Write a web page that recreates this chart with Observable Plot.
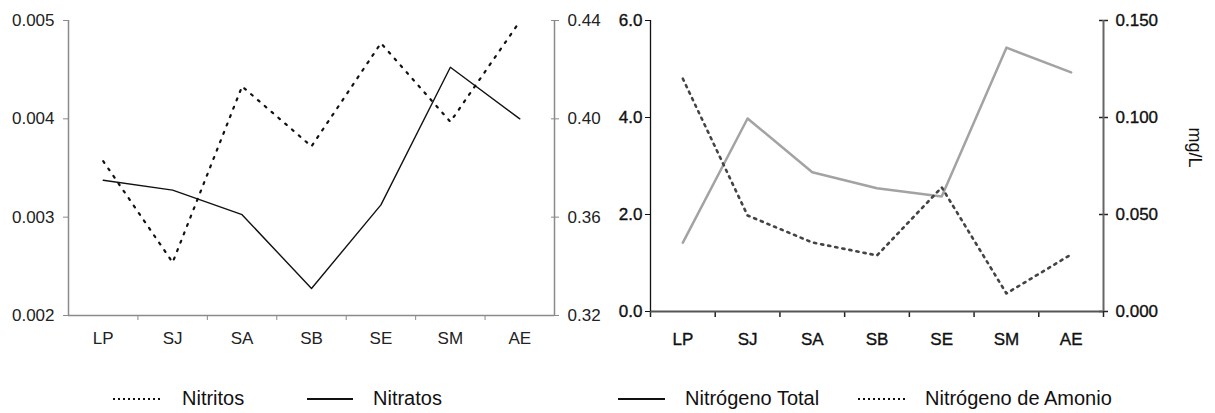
<!DOCTYPE html>
<html>
<head>
<meta charset="utf-8">
<script src="https://cdn.jsdelivr.net/npm/d3@7"></script>
<script src="https://cdn.jsdelivr.net/npm/@observablehq/plot@0.6"></script>
<style>
  body { margin: 0; background: #fff; font-family: "Liberation Sans", Arial, sans-serif; }
  #wrap { position: relative; width: 1215px; height: 413px; overflow: hidden; }
  #p1, #p2 { position: absolute; top: 0; }
  #p1 { left: 0; }
  #p2 { left: 600px; }
  #p2 g[aria-label*="tick label"] text { stroke: #111; stroke-width: 0.35px; }
  .leg { position: absolute; top: 386px; font-size: 20px; color: #111; white-space: nowrap; line-height: 24px; }
  .leg svg { position: absolute; top: 0; }
  .ylab { position: absolute; left: 1172px; top: 137px; font-size: 18px; color: #111; transform: rotate(90deg); transform-origin: center; width: 44px; text-align: center; }
</style>
</head>
<body>
<div id="wrap">
  <div id="p1"></div>
  <div id="p2"></div>
  <div class="ylab">mg/L</div>
</div>
<script>
// ---- data ----
const categories = ["LP", "SJ", "SA", "SB", "SE", "SM", "AE"];
// left panel
const nitritos = [0.00357, 0.00254, 0.00433, 0.00372, 0.00477, 0.00397, 0.00499]; // left axis
const nitratos = [0.375, 0.371, 0.361, 0.331, 0.365, 0.421, 0.400];               // right axis
const leftTicks1 = [0.002, 0.003, 0.004, 0.005];
const rightTicks1 = [0.32, 0.36, 0.40, 0.44];
// right panel
const nitrogenoTotal = [1.42, 3.98, 2.87, 2.54, 2.37, 5.44, 4.93];                // left axis
const nitrogenoAmonio = [0.120, 0.0495, 0.0356, 0.0289, 0.064, 0.0093, 0.0294];   // right axis
const leftTicks2 = [0, 2, 4, 6];
const rightTicks2 = [0, 0.05, 0.10, 0.15];

const font = {fontFamily: "'Liberation Sans', Arial, sans-serif", fontSize: "17px", background: "transparent", overflow: "visible"};
const idx = d3.range(categories.length);
const bounds = d3.range(categories.length + 1).map(i => i - 0.5);

// ---- left panel ----
{
  const [l0, l1] = [leftTicks1[0], leftTicks1[leftTicks1.length - 1]];
  const [r0, r1] = [rightTicks1[0], rightTicks1[rightTicks1.length - 1]];
  const toL = r => l0 + (r - r0) / (r1 - r0) * (l1 - l0);
  const toR = l => r0 + (l - l0) / (l1 - l0) * (r1 - r0);
  const axisColor = "#8a8a8a";
  const chart = Plot.plot({
    width: 605, height: 345,
    marginTop: 20, marginLeft: 68, marginRight: 51, marginBottom: 30,
    style: font,
    x: {type: "linear", domain: [-0.5, categories.length - 0.5]},
    y: {domain: [l0, l1]},
    marks: [
      Plot.axisX(idx, {tickSize: 0, tickPadding: 16, tickFormat: i => categories[i], fill: "#222"}),
      Plot.axisX(bounds.slice(1, -1), {tickSize: 5, tickFormat: () => "", stroke: axisColor}),
      Plot.axisY(leftTicks1, {tickSize: 5, tickPadding: 9, tickFormat: d => d.toFixed(3), stroke: axisColor, fill: "#222"}),
      Plot.axisY(rightTicks1.map(toL), {anchor: "right", tickSize: 4, tickPadding: 9, tickFormat: d => toR(d).toFixed(2), stroke: axisColor, fill: "#222"}),
      Plot.axisY(rightTicks1.map(toL), {anchor: "right", tickSize: -4, tickFormat: () => "", stroke: axisColor}),
      Plot.ruleY([l0], {stroke: axisColor, strokeWidth: 1.5}),
      Plot.ruleX([bounds[0]], {stroke: axisColor, strokeWidth: 1.5}),
      Plot.ruleX([bounds[bounds.length - 1]], {stroke: axisColor, strokeWidth: 1.5}),
      Plot.line(nitratos, {x: (d, i) => i, y: d => toL(d), stroke: "#111", strokeWidth: 1.4}),
      Plot.line(nitritos, {x: (d, i) => i, y: d => d, stroke: "#111", strokeWidth: 2.2, strokeDasharray: "2,7"})
    ]
  });
  document.getElementById("p1").appendChild(chart);
}

// ---- right panel ----
{
  const [l0, l1] = [leftTicks2[0], leftTicks2[leftTicks2.length - 1]];
  const [r0, r1] = [rightTicks2[0], rightTicks2[rightTicks2.length - 1]];
  const toL = r => l0 + (r - r0) / (r1 - r0) * (l1 - l0);
  const toR = l => r0 + (l - l0) / (l1 - l0) * (r1 - r0);
  const chart = Plot.plot({
    width: 615, height: 345,
    marginTop: 20, marginLeft: 50, marginRight: 112, marginBottom: 34,
    style: font,
    x: {type: "linear", domain: [-0.5, categories.length - 0.5]},
    y: {domain: [l0, l1]},
    marks: [
      Plot.axisX(idx, {tickSize: 0, tickPadding: 21, tickFormat: i => categories[i], fill: "#111"}),
      Plot.axisX(bounds, {tickSize: 6, tickFormat: () => "", stroke: "#222", strokeWidth: 1.5}),
      Plot.axisY(leftTicks2, {tickSize: 5, tickPadding: 3, tickFormat: d => d.toFixed(1), stroke: "#111", fill: "#111"}),
      Plot.axisY(rightTicks2.map(toL), {anchor: "right", tickSize: 4, tickPadding: 8, tickFormat: d => toR(d).toFixed(3), stroke: "#222", fill: "#111", strokeWidth: 1.5}),
      Plot.axisY(rightTicks2.map(toL), {anchor: "right", tickSize: -5, tickFormat: () => "", stroke: "#222", strokeWidth: 1.5}),
      Plot.ruleY([l0], {stroke: "#555", strokeWidth: 2}),
      Plot.ruleX([bounds[0]], {stroke: "#111", strokeWidth: 1.3}),
      Plot.ruleX([bounds[bounds.length - 1]], {stroke: "#666", strokeWidth: 2}),
      Plot.line(nitrogenoTotal, {x: (d, i) => i, y: d => d, stroke: "#a3a3a3", strokeWidth: 2.5}),
      Plot.line(nitrogenoAmonio, {x: (d, i) => i, y: d => toL(d), stroke: "#444", strokeWidth: 2.6, strokeDasharray: "2.2,5"})
    ]
  });
  document.getElementById("p2").appendChild(chart);
}

// ---- legends ----
const legends = [
  {label: "Nitritos", x: 113, w: 49, dash: "2,3", stroke: "#111", sw: 2},
  {label: "Nitratos", x: 307, w: 46, dash: null, stroke: "#111", sw: 2},
  {label: "Nitrógeno Total", x: 618, w: 47, dash: null, stroke: "#111", sw: 2},
  {label: "Nitrógeno de Amonio", x: 858, w: 47, dash: "2,3", stroke: "#111", sw: 2}
];
const wrap = document.getElementById("wrap");
for (const L of legends) {
  const div = document.createElement("div");
  div.className = "leg";
  div.style.left = L.x + "px";
  div.innerHTML = `<svg width="${L.w}" height="24"><line x1="0" x2="${L.w}" y1="13" y2="13" stroke="${L.stroke}" stroke-width="${L.sw}" ${L.dash ? `stroke-dasharray="${L.dash}"` : ""}/></svg><span style="margin-left:${L.w + 20}px">${L.label}</span>`;
  wrap.appendChild(div);
}
</script>
</body>
</html>
